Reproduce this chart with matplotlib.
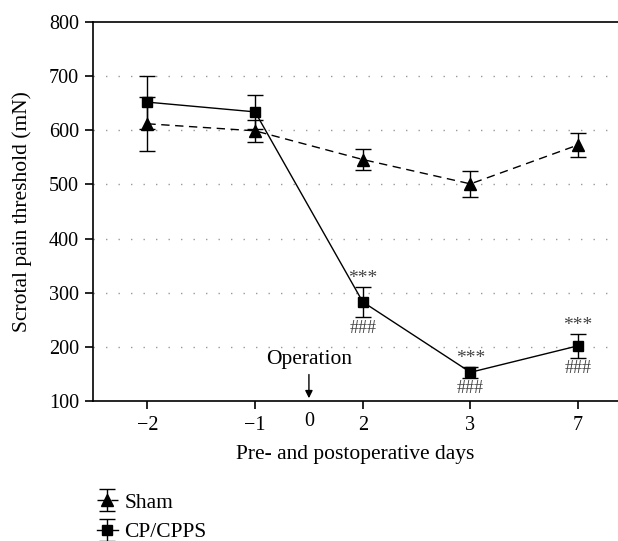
import matplotlib
matplotlib.use("Agg")
import matplotlib.pyplot as plt

plt.rcParams['font.family'] = ['Liberation Serif', 'DejaVu Serif']

days = ["−2", "−1", "2", "3", "7"]
sham_mean = [612, 599, 546, 501, 573]
sham_err = [50, 20, 20, 24, 22]
cp_mean = [652, 634, 283, 153, 202]
cp_err = [49, 31, 28, 10, 22]
sig_idx = [2, 3, 4]

fig = plt.figure(figsize=(6.18, 5.41), dpi=100)
ax = fig.add_axes([93/618, 1-401/541, 1-93/618, (401-22)/541])

x = list(range(len(days)))
ax.errorbar(x, sham_mean, yerr=sham_err, color='black', marker='^', markersize=8.5,
            linestyle=(0, (6, 4)), linewidth=1, capsize=6, elinewidth=1, capthick=1,
            label='Sham', zorder=3)
ax.errorbar(x, cp_mean, yerr=cp_err, color='black', marker='s', markersize=7.5,
            linestyle='-', linewidth=1, capsize=6, elinewidth=1, capthick=1,
            label='CP/CPPS', zorder=4)

for i in sig_idx:
    ax.annotate('***', (x[i], cp_mean[i] + cp_err[i]), xytext=(0, 0),
                textcoords='offset points', ha='center', va='bottom',
                fontsize=14, color='#444444')
    ax.annotate('###', (x[i], cp_mean[i] - cp_err[i]), xytext=(0, -2),
                textcoords='offset points', ha='center', va='top',
                fontsize=13, color='#444444')

ax.set_xlim(-0.505, 4.37)
ax.set_ylim(100, 800)
ax.set_yticks(range(100, 801, 100))
ax.set_xticks(x)
ax.set_xticklabels(days)
for yv in range(200, 800, 100):
    ax.axhline(yv, color='#999999', linestyle=(0, (1, 8)), linewidth=1, zorder=1)

ax.text(1.5, -0.028, '0', transform=ax.get_xaxis_transform(), ha='center', va='top', fontsize=14.5)
ax.annotate('', xy=(1.5, 100), xytext=(1.5, 154),
            arrowprops=dict(arrowstyle='-|>', color='black', lw=1, mutation_scale=11))
ax.text(1.5, 160, 'Operation', ha='center', va='bottom', fontsize=15.5)

for s in ['right']:
    ax.spines[s].set_visible(False)
for s in ['left', 'bottom', 'top']:
    ax.spines[s].set_linewidth(1.2)
ax.tick_params(axis='both', direction='out', length=6, width=1.2, labelsize=14.5)
ax.tick_params(axis='x', pad=5)
ax.tick_params(axis='y', pad=4)

ax.set_xlabel('Pre- and postoperative days', fontsize=15.5, labelpad=7)
ax.set_ylabel('Scrotal pain threshold (mN)', fontsize=15.5, labelpad=12)

fig.legend(loc='upper left', bbox_to_anchor=(88/618, 1-484/541), frameon=False,
           fontsize=15.5, handlelength=1.0, handletextpad=0.3, labelspacing=0.45,
           borderaxespad=0)

fig.savefig('out.png', dpi=100)
